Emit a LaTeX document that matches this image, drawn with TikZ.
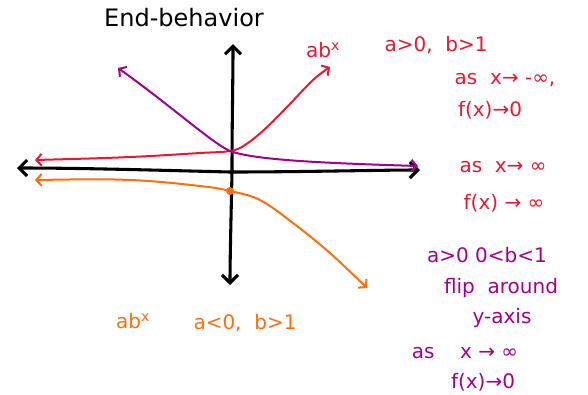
\documentclass[tikz,border=0pt]{standalone}
\usepackage{fontspec}
\setmainfont{DejaVu Sans}
\usetikzlibrary{arrows.meta}
\definecolor{cred}{RGB}{232,24,48}
\definecolor{cpur}{RGB}{163,0,143}
\definecolor{corg}{RGB}{255,110,10}
\tikzset{
  axis/.style={line width=2.3pt, line cap=round, -{Straight Barb[length=6pt,width=12pt,line width=2.3pt]}},
  curve/.style={line width=1.5pt, line cap=round, {Straight Barb[length=4pt,width=9pt]}-{Straight Barb[length=4pt,width=9pt]}},
  lbl/.style={font=\fontsize{15}{17}\selectfont, inner sep=0pt},
}
\newcommand{\supx}{\textsuperscript{x}}
\begin{document}
\begin{tikzpicture}[x=0.75pt,y=-0.75pt]
\useasboundingbox (0,0) rectangle (588,394);
% axes
\coordinate (xl) at (17,168);
\coordinate (xm) at (230,172);
\coordinate (xr) at (420,170);
\coordinate (yb) at (230,285);
\coordinate (yt) at (233,44);
\draw[axis] (xm) .. controls (150,170) and (80,168) .. (xl);
\draw[axis] (xm) .. controls (300,172) and (380,170) .. (xr);
\draw[axis] (232,172) .. controls (232,120) and (233,80) .. (yt);
\draw[axis] (232,172) .. controls (231,220) and (230,260) .. (yb);
% red curve
\draw[curve, cred] plot[smooth, tension=0.6] coordinates {(35,160) (130,157) (200,153) (230,151) (245,145) (265,129) (287,107) (313,80) (330,67)};
% purple curve
\coordinate (pl) at (118,68);
\coordinate (pm) at (230,151);
\coordinate (pr) at (418,166);
\draw[curve, cpur] (pl) .. controls (170,105) and (212,143) .. (pm) .. controls (255,160) and (320,163) .. (pr);
% orange curve
\draw[curve, corg] plot[smooth, tension=0.6] coordinates {(35,180) (130,180) (200,186) (230,191) (260,200) (293,223) (330,253) (367,288)};
\node[circle, fill=corg, minimum size=6pt, inner sep=0pt] (dot) at (230,191) {};
% labels
\node[lbl, font=\fontsize{18}{20}\selectfont] (title) at (184,18) {End-behavior};
\node[lbl, text=cred] (abr) at (323,50) {ab\supx};
\node[lbl, text=cred] (r1) at (436,45) {a>0,\ \ b>1};
\node[lbl, text=cred] (r2) at (505,80) {as\ \ x→\ -∞,};
\node[lbl, text=cred] (r3) at (490,110) {f(x)→0};
\node[lbl, text=cred] (r4) at (503,167) {as\ \ x→\ ∞};
\node[lbl, text=cred] (r5) at (504,203) {f(x)\ → ∞};
\node[lbl, text=cpur] (p1) at (487,255) {a>0 0<b<1};
\node[lbl, text=cpur] (p2) at (501,288) {flip\ \ around};
\node[lbl, text=cpur] (p3) at (502,318) {y-axis};
\node[lbl, text=cpur] (p4) at (465,353) {as\ \ \ \ x → ∞};
\node[lbl, text=cpur] (p5) at (483,382) {f(x)→0};
\node[lbl, text=corg] (o1) at (133,321) {ab\supx};
\node[lbl, text=corg] (o2) at (245,323) {a<0,\ \ b>1};
\end{tikzpicture}
\end{document}
